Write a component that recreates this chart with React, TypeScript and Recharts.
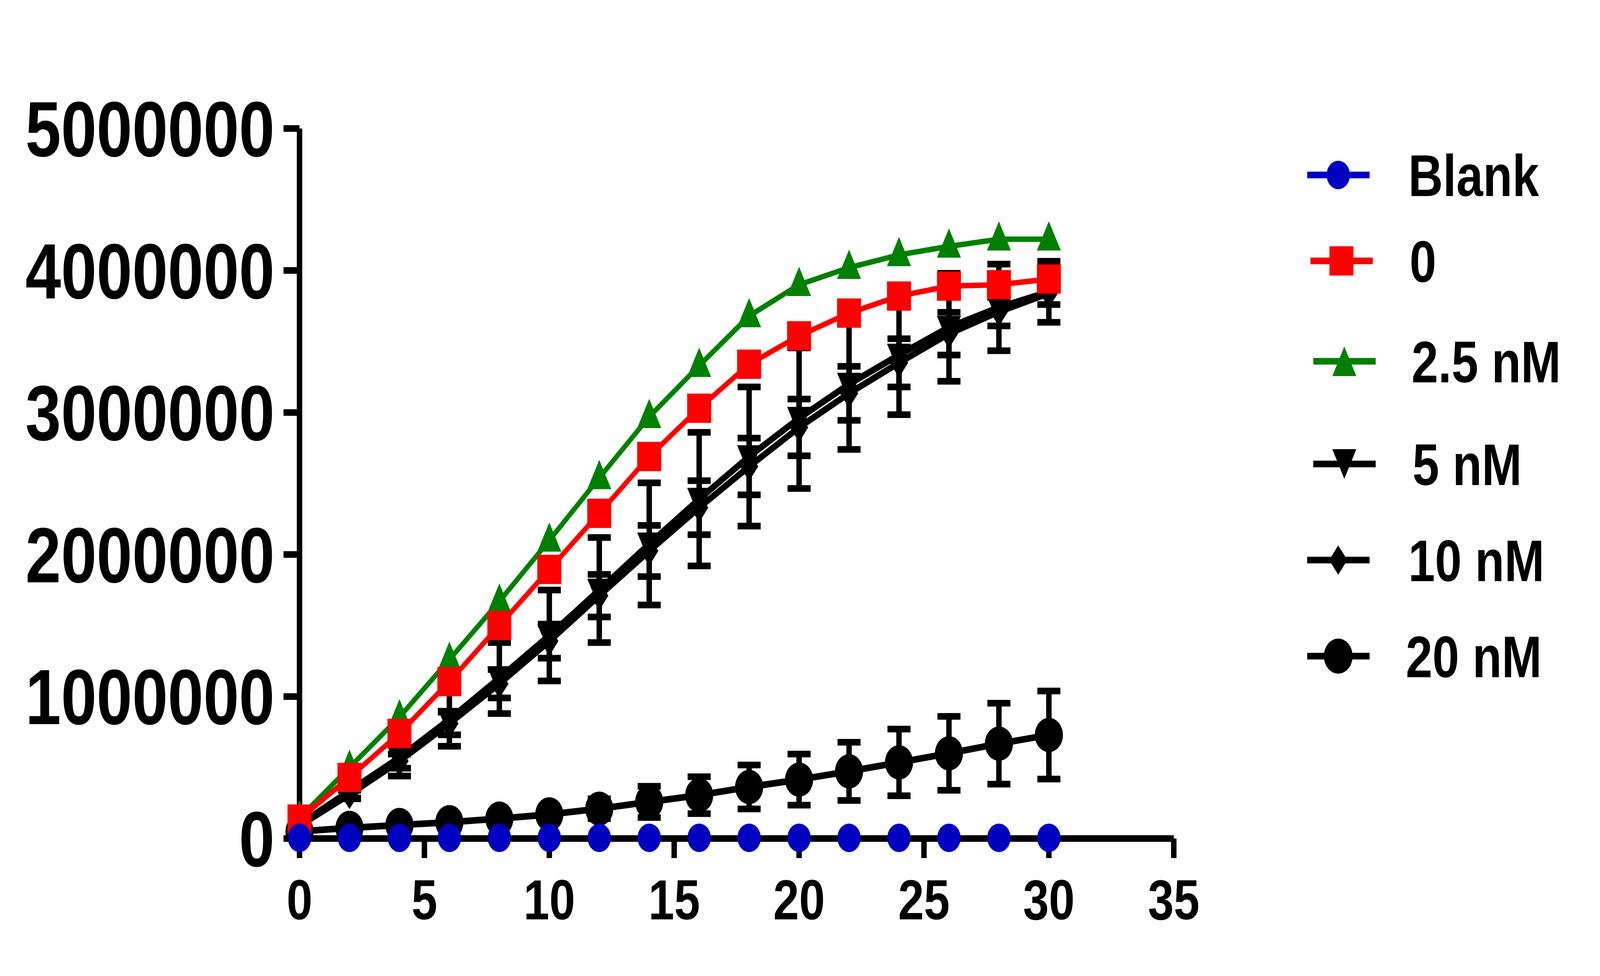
import React from 'react';
import { LineChart, Line, XAxis, YAxis, ErrorBar, Legend } from 'recharts';

// ---- data ----
const times = [0, 2, 4, 6, 8, 10, 12, 14, 16, 18, 20, 22, 24, 26, 28, 30];
const blankVals = [5000, 5000, 5000, 5000, 5000, 5000, 5000, 5000, 5000, 5000, 5000, 5000, 5000, 5000, 5000, 5000];
const zeroVals = [137000, 430000, 740000, 1105000, 1500000, 1895000, 2290000, 2690000, 3030000, 3340000, 3540000, 3700000, 3820000, 3890000, 3900000, 3940000];
const nM25Vals = [145000, 500000, 855000, 1260000, 1670000, 2100000, 2540000, 2970000, 3330000, 3680000, 3900000, 4020000, 4110000, 4170000, 4220000, 4220000];
const nM5Vals = [100000, 335000, 570000, 840000, 1130000, 1430000, 1750000, 2075000, 2390000, 2690000, 2960000, 3200000, 3405000, 3600000, 3740000, 3850000];
const nM5Err = [20000, 50000, 130000, 190000, 250000, 320000, 370000, 430000, 470000, 490000, 495000, 460000, 420000, 380000, 305000, 215000];
const nM10Vals = [90000, 310000, 545000, 810000, 1090000, 1390000, 1710000, 2025000, 2330000, 2620000, 2895000, 3135000, 3350000, 3555000, 3710000, 3840000];
const nM10Err = [10000, 30000, 50000, 80000, 100000, 120000, 150000, 180000, 190000, 200000, 200000, 190000, 170000, 150000, 100000, 80000];
const nM20Vals = [50000, 75000, 95000, 115000, 140000, 170000, 210000, 258000, 305000, 363000, 415000, 473000, 536000, 600000, 668000, 729000];
const nM20Err = [5000, 10000, 15000, 20000, 30000, 40000, 70000, 110000, 130000, 155000, 180000, 205000, 235000, 260000, 285000, 310000];
const xTicks = [0, 5, 10, 15, 20, 25, 30, 35];
const yTicks = [0, 1000000, 2000000, 3000000, 4000000, 5000000];
const legendNames = ['Blank', '0', '2.5 nM', '5 nM', '10 nM', '20 nM'];

const data = times.map((t, i) => ({
  t,
  blank: blankVals[i],
  c0: zeroVals[i],
  c25: nM25Vals[i],
  c5: nM5Vals[i],
  e5: nM5Err[i],
  c10: nM10Vals[i],
  e10: nM10Err[i],
  c20: nM20Vals[i],
  e20: nM20Err[i],
}));

const FONT = '"Liberation Sans", Arial, sans-serif';
const BLUE = '#0000C0';
const RED = '#FF0000';
const GREEN = '#008000';
const BLACK = '#000000';
const W = 5000;
const H = 2499;

type ShapeKind = 'circle' | 'bigcircle' | 'square' | 'tri' | 'itri' | 'diamond';

function Marker({ kind, cx, cy, color, legend }: { kind: ShapeKind; cx: number; cy: number; color: string; legend?: boolean }) {
  switch (kind) {
    case 'circle':
      return <circle cx={cx} cy={cy} r={36.5} fill={color} />;
    case 'bigcircle':
      return <circle cx={cx} cy={cy} r={legend ? 45 : 44} fill={color} />;
    case 'square':
      return <rect x={cx - 37.5} y={cy - 37.5} width={75} height={75} fill={color} />;
    case 'tri': {
      const up = legend ? 38 : 46;
      const dn = legend ? 38 : 29;
      return <polygon points={`${cx},${cy - up} ${cx - 37.5},${cy + dn} ${cx + 37.5},${cy + dn}`} fill={color} />;
    }
    case 'itri': {
      const dn = legend ? 38 : 46;
      const up = legend ? 38 : 29;
      return <polygon points={`${cx},${cy + dn} ${cx - 37.5},${cy - up} ${cx + 37.5},${cy - up}`} fill={color} />;
    }
    case 'diamond':
      return <polygon points={`${cx},${cy - 37.5} ${cx + 28.5},${cy} ${cx},${cy + 37.5} ${cx - 28.5},${cy}`} fill={color} />;
    default:
      return null;
  }
}

const makeDot = (kind: ShapeKind, color: string) => (props: any) => {
  const { cx, cy, index } = props;
  if (cx == null || cy == null) return <g key={`${kind}-${index}`} />;
  return (
    <g key={`${kind}-${index}`}>
      <Marker kind={kind} cx={cx} cy={cy} color={color} />
    </g>
  );
};

// legend layout (style, not data)
const legendStyles: { color: string; kind: ShapeKind; rowY: number; lineX: number; textX: number }[] = [
  { color: BLUE, kind: 'circle', rowY: 148, lineX: 85, textX: 401 },
  { color: RED, kind: 'square', rowY: 368, lineX: 95, textX: 405 },
  { color: GREEN, kind: 'tri', rowY: 625, lineX: 104, textX: 411 },
  { color: BLACK, kind: 'itri', rowY: 888, lineX: 104, textX: 414 },
  { color: BLACK, kind: 'diamond', rowY: 1134, lineX: 85, textX: 401 },
  { color: BLACK, kind: 'bigcircle', rowY: 1380, lineX: 85, textX: 393 },
];

function LegendBox() {
  return (
    <svg width={1000} height={1500} style={{ display: 'block' }}>
      {legendNames.map((name, i) => {
        const st = legendStyles[i];
        const cy = st.rowY;
        return (
          <g key={name}>
            <line x1={st.lineX} x2={st.lineX + 195} y1={cy} y2={cy} stroke={st.color} strokeWidth={17} />
            <Marker kind={st.kind} cx={st.lineX + 97} cy={cy} color={st.color} legend />
            <text x={st.textX} y={cy + 54} fontFamily={FONT} fontWeight="bold" fontSize={150} fill="#000">
              {name}
            </text>
          </g>
        );
      })}
    </svg>
  );
}

export default function App() {
  // The browser may clamp the viewport (e.g. to 4096 wide); fit the 5000x2499 design to it.
  const vw = typeof window !== 'undefined' && window.innerWidth ? window.innerWidth : W;
  const vh = typeof window !== 'undefined' && window.innerHeight ? window.innerHeight : H;
  const sx = Math.min(1, vw / W);
  const sy = Math.min(1, vh / H);
  return (
    <div style={{ position: 'relative', width: W * sx, height: H * sy, overflow: 'hidden', background: '#fff' }}>
      <style>{`html, body { margin: 0; padding: 0; overflow: hidden; background: #fff; }`}</style>
      <div style={{ width: W, height: H, transform: `scale(${sx}, ${sy})`, transformOrigin: '0 0' }}>
        <LineChart
          width={W}
          height={H}
          data={data}
          margin={{ top: 329, right: 1332, bottom: 0, left: 0 }}
        >
          <XAxis
            dataKey="t"
            type="number"
            domain={[0, 35]}
            ticks={xTicks}
            interval={0}
            height={352}
            axisLine={{ stroke: '#000', strokeWidth: 17 }}
            tickLine={{ stroke: '#000', strokeWidth: 17 }}
            tickSize={50}
            tickMargin={54}
            tick={{ fontSize: 145, fontWeight: 'bold', fill: '#000', fontFamily: FONT }}
          />
          <YAxis
            type="number"
            domain={[0, 5000000]}
            ticks={yTicks}
            interval={0}
            width={936}
            axisLine={{ stroke: '#000', strokeWidth: 17 }}
            tickLine={{ stroke: '#000', strokeWidth: 17 }}
            tickSize={50}
            tickMargin={28}
            tick={{ fontSize: 200, fontWeight: 'bold', fill: '#000', fontFamily: FONT }}
          />
          <Legend
            layout="horizontal"
            verticalAlign="middle"
            align="center"
            content={() => <LegendBox />}
            wrapperStyle={{ left: 4000, top: 300, width: 1000, height: 1500 }}
          />
          <Line dataKey="c20" name="20 nM" type="linear" stroke={BLACK} strokeWidth={17} isAnimationActive={false} dot={makeDot('bigcircle', BLACK)} activeDot={false} legendType="none">
            <ErrorBar dataKey="e20" direction="y" width={36} stroke={BLACK} strokeWidth={17} isAnimationActive={false} />
          </Line>
          <Line dataKey="c10" name="10 nM" type="linear" stroke={BLACK} strokeWidth={17} isAnimationActive={false} dot={makeDot('diamond', BLACK)} activeDot={false} legendType="none">
            <ErrorBar dataKey="e10" direction="y" width={36} stroke={BLACK} strokeWidth={17} isAnimationActive={false} />
          </Line>
          <Line dataKey="c5" name="5 nM" type="linear" stroke={BLACK} strokeWidth={17} isAnimationActive={false} dot={makeDot('itri', BLACK)} activeDot={false} legendType="none">
            <ErrorBar dataKey="e5" direction="y" width={36} stroke={BLACK} strokeWidth={17} isAnimationActive={false} />
          </Line>
          <Line dataKey="c25" name="2.5 nM" type="linear" stroke={GREEN} strokeWidth={14} isAnimationActive={false} dot={makeDot('tri', GREEN)} activeDot={false} legendType="none" />
          <Line dataKey="c0" name="0" type="linear" stroke={RED} strokeWidth={14} isAnimationActive={false} dot={makeDot('square', RED)} activeDot={false} legendType="none" />
          <Line dataKey="blank" name="Blank" type="linear" stroke={BLUE} strokeWidth={9} isAnimationActive={false} dot={makeDot('circle', BLUE)} activeDot={false} legendType="none" />
        </LineChart>
      </div>
    </div>
  );
}
